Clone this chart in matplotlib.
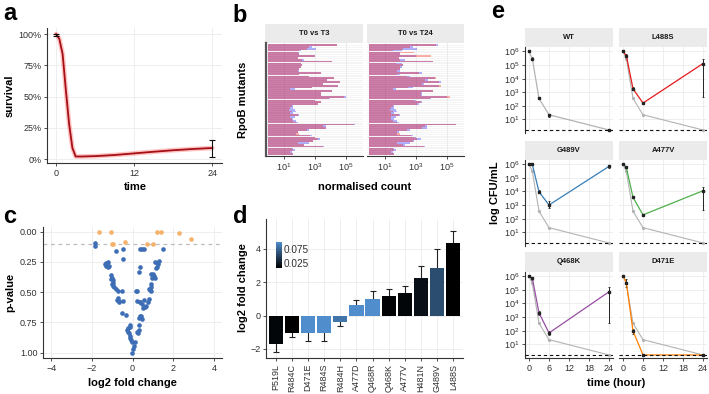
import numpy as np
import matplotlib
matplotlib.use('Agg')
import matplotlib.pyplot as plt
from matplotlib.colors import LinearSegmentedColormap, Normalize
from matplotlib.ticker import FuncFormatter, NullLocator

plt.rcParams['font.family'] = ['Liberation Sans', 'DejaVu Sans']
plt.rcParams['mathtext.fontset'] = 'custom'
plt.rcParams['mathtext.rm'] = 'Liberation Sans'
plt.rcParams['mathtext.it'] = 'Liberation Sans:italic'
plt.rcParams['mathtext.bf'] = 'Liberation Sans:bold'

# ---- panel a: survival curve
time_a = [0, 0.5, 1, 1.5, 2, 2.5, 3, 4, 6, 9, 12, 15, 18, 21, 24]
surv_a = [100, 96, 84, 55, 28, 9, 2, 2, 2.3, 3.2, 4.5, 5.8, 7, 8, 8.8]
err_t_a = [0, 24]
err_lo_a = [98.5, 2]
err_hi_a = [100, 15.5]

# ---- panel b: normalised counts (log10) per RpoB mutant, top to bottom
t0_log = [4.4, 2.8, 3.1, 2.1, 2.0, 2.0, 3.0, 1.9, 2.3, 4.1, 2.1, 2.2, 2.1, 2.0, 2.0,
          3.4, 2.0, 2.6, 4.2, 3.8, 4.6, 3.5, 4.5, 2.8, 1.7, 4.1, 3.4, 3.4, 5.0, 4.0,
          3.0, 3.4, 3.2, 1.6, 1.6, 1.7, 1.8, 1.6, 2.0, 1.7, 1.6, 1.8, 1.9, 5.6, 3.7,
          3.7, 2.6, 1.9, 1.8, 2.8, 3.0, 3.3, 2.9, 2.6, 2.3, 3.6, 1.6, 1.7, 1.5, 1.6]
t3_log = [4.4, 2.6, 2.5, 2.0, 1.9, 2.0, 3.0, 1.9, 2.2, 4.1, 2.1, 2.2, 2.1, 2.0, 1.9,
          3.4, 2.0, 2.6, 4.2, 3.8, 4.6, 3.5, 4.5, 2.8, 1.4, 4.1, 3.4, 3.4, 4.9, 3.9,
          3.0, 3.4, 3.2, 1.5, 1.4, 1.3, 1.5, 1.4, 1.9, 1.4, 1.5, 1.6, 1.8, 5.5, 3.5,
          3.7, 2.5, 1.9, 2.0, 2.7, 3.0, 3.2, 2.9, 1.9, 2.3, 3.5, 1.5, 1.6, 1.4, 1.6]
t24_log = [4.3, 2.6, 2.2, 1.5, 2.9, 2.0, 4.0, 1.9, 2.0, 4.1, 1.7, 2.2, 2.0, 2.0, 1.8,
           3.2, 1.8, 2.4, 4.3, 3.6, 4.5, 3.4, 4.6, 2.5, 1.5, 4.1, 3.3, 3.3, 5.2, 3.9,
           2.9, 3.3, 3.1, 1.5, 1.4, 1.3, 1.5, 1.4, 1.9, 1.4, 1.4, 1.5, 1.8, 5.6, 3.6,
           3.4, 2.4, 1.8, 2.0, 2.7, 2.9, 3.1, 2.8, 1.8, 2.2, 3.5, 1.5, 1.6, 1.4, 1.6]

# ---- panel c: volcano plot
sig_x = [-1.66, -1.05, 1.21, 1.38, 2.30, 2.90, -1.02, -0.97, -0.39, 0.69, 1.03]
sig_p = [0.005, 0.0, 0.005, 0.005, 0.011, 0.058, 0.099, 0.099, 0.083, 0.099, 0.099]
ns_x = [-1.85, -1.82, -0.82, -0.49, -0.49, 0.39, 0.48, 0.56, 1.48, 0.39, 0.33,
        -1.33, -1.28, -1.22, -1.30, -1.15, -1.18, -1.08, -1.03, -0.98, -0.95, -1.00, -1.06,
        -0.89, -0.79, -0.70, -0.51, -0.95, -0.72, -0.66, -0.46, -0.75, -0.67, -0.51, -0.30,
        -0.10, -0.13, -0.26, -0.23, -0.18, -0.13, -0.10, -0.06, -0.02, -0.21,
        0.10, 0.07, 0.02, -0.02,
        1.10, 1.18, 1.25, 1.22, 1.15, 1.28, 0.93, 1.02, 1.05, 1.13, 0.95, 1.00,
        0.80, 0.89, 0.93, 0.85, 0.90, 0.16, 0.23, 0.23, 0.36, 0.39, 0.48, 0.56, 0.59,
        0.64, 0.75, 0.80, 0.52, 0.36, 0.43, 0.48, 0.33, 0.31, 0.26, 0.31, 0.23]
ns_p = [0.096, 0.116, 0.16, 0.146, 0.226, 0.146, 0.146, 0.146, 0.146, 0.289, 0.336,
        0.27, 0.26, 0.29, 0.285, 0.28, 0.25, 0.36, 0.38, 0.40, 0.42, 0.43, 0.39,
        0.46, 0.47, 0.49, 0.49, 0.45, 0.545, 0.57, 0.57, 0.565, 0.58, 0.675, 0.69,
        0.77, 0.785, 0.81, 0.83, 0.84, 0.86, 0.88, 0.895, 0.91, 0.80,
        0.91, 0.945, 0.97, 1.0,
        0.25, 0.26, 0.27, 0.29, 0.30, 0.24, 0.35, 0.35, 0.37, 0.38, 0.385, 0.36,
        0.47, 0.46, 0.43, 0.48, 0.49, 0.49, 0.49, 0.573, 0.58, 0.58, 0.60, 0.565, 0.62,
        0.61, 0.58, 0.56, 0.63, 0.70, 0.70, 0.72, 0.71, 0.77, 0.84, 0.81, 0.83]

# ---- panel d: fold change per mutant
mutants_d = ['P519L', 'R484C', 'D471E', 'R484S', 'R484H', 'A477D',
             'Q468R', 'Q468K', 'A477V', 'H481N', 'G489V', 'L488S']
lfc_d = [-1.7, -1.05, -1.05, -1.05, -0.4, 0.65, 1.0, 1.2, 1.35, 2.25, 2.85, 4.35]
se_d = [0.5, 0.25, 0.5, 0.45, 0.2, 0.3, 0.5, 0.4, 0.4, 0.75, 1.15, 0.7]
pval_d = [0.012, 0.008, 0.099, 0.099, 0.083, 0.099, 0.099, 0.010, 0.012, 0.018, 0.058, 0.008]

# ---- panel e: kill curves
hours_e = [0, 1, 3, 6, 24]
LOD = 1.67
strains_e = ['WT', 'L488S', 'G489V', 'A477V', 'Q468K', 'D471E']
colors_e = ['#b3b3b3', '#e41a1c', '#377eb8', '#4daf4a', '#984ea3', '#ff7f00']
cfu_e = {
    'WT':    [1e6, 2.9e5, 3.5e2, 2.2e1, LOD],
    'L488S': [1e6, 5e5, 1.8e3, 1.6e2, 1.3e5],
    'G489V': [1e6, 9.3e5, 9.3e3, 1e3, 6.7e5],
    'A477V': [1e6, 5.6e5, 3.6e3, 1.9e2, 1.1e4],
    'Q468K': [1e6, 6.8e5, 2e3, 6.8e1, 7e4],
    'D471E': [1e6, 3.2e5, 9.5e1, LOD, LOD],
}
lo_e = {
    'WT':    [1e6, 2.2e5, 3e2, 1.5e1, LOD],
    'L488S': [9e5, 4e5, 1.4e3, 1.3e2, 4.7e2],
    'G489V': [9e5, 8e5, 7e3, 6e2, 5e5],
    'A477V': [9e5, 4.8e5, 3e3, 1.5e2, 4.3e2],
    'Q468K': [9e5, 5e5, 1.5e3, 5e1, 3.7e2],
    'D471E': [9e5, 1.6e5, 6e1, LOD, LOD],
}
hi_e = {
    'WT':    [1.1e6, 3.8e5, 4e2, 2.7e1, LOD],
    'L488S': [1.1e6, 6e5, 2.3e3, 2e2, 2.6e5],
    'G489V': [1.1e6, 1.1e6, 1.3e4, 2e3, 9e5],
    'A477V': [1.1e6, 6.5e5, 4.3e3, 2.3e2, 2.2e4],
    'Q468K': [1.1e6, 8e5, 2.7e3, 9e1, 1.5e5],
    'D471E': [1.1e6, 5.8e5, 1.4e2, LOD, LOD],
}

W, H = 709, 394
fig = plt.figure(figsize=(W / 100, H / 100), dpi=100)
TXT = '#303030'


def rect(l, t, r, b):
    return [l / W, 1 - b / H, (r - l) / W, (b - t) / H]


def style(ax, left=True, bottom=True):
    for s in ['top', 'right']:
        ax.spines[s].set_visible(False)
    ax.spines['left'].set_visible(left)
    ax.spines['bottom'].set_visible(bottom)
    for s in ['left', 'bottom']:
        ax.spines[s].set_color('#333333')
        ax.spines[s].set_linewidth(0.8)
    ax.tick_params(length=2.5, width=0.6, labelsize=6.5, pad=1.5,
                   colors='#333333', labelcolor=TXT)
    ax.tick_params(axis='y', left=left, labelleft=left)
    ax.tick_params(axis='x', bottom=bottom, labelbottom=bottom)
    ax.grid(True, color='#ebebeb', lw=0.6)
    ax.set_axisbelow(True)


def strip(l, t, r, b, text):
    sa = fig.add_axes(rect(l, t, r, b))
    sa.set_facecolor('#ebebeb')
    sa.set_xticks([])
    sa.set_yticks([])
    for sp in sa.spines.values():
        sp.set_visible(False)
    sa.text(0.5, 0.5, text, ha='center', va='center', fontsize=5.5,
            fontweight='bold', color='#1a1a1a', transform=sa.transAxes)


def title(x, y, text, rot=0):
    fig.text(x / W, 1 - y / H, text, ha='center', va='center', rotation=rot,
             fontsize=8, fontweight='bold')


def letter(x, y, text):
    fig.text(x / W, 1 - y / H, text, ha='left', va='baseline',
             fontsize=17, fontweight='bold')


# ---------------- a
ax = fig.add_axes(rect(47, 28, 222, 163))
style(ax)
ax.plot(time_a, surv_a, color='#ff8080', lw=3.4, alpha=0.45, solid_capstyle='round')
ax.plot(time_a, surv_a, color='#a50f15', lw=1.3)
mid = [(a + b) / 2 for a, b in zip(err_lo_a, err_hi_a)]
ax.errorbar(err_t_a, mid, yerr=[np.subtract(mid, err_lo_a), np.subtract(err_hi_a, mid)],
            fmt='none', ecolor='#111111', elinewidth=0.8, capsize=2, capthick=0.8)
ax.set_xlim(-1.4, 25.5)
ax.set_ylim(-3.2, 104.8)
ax.set_xticks([0, 12, 24])
ax.set_yticks([0, 25, 50, 75, 100])
ax.yaxis.set_major_formatter(FuncFormatter(lambda v, p: f'{v:.0f}%'))
title(10, 96, 'survival', 90)
title(135, 187, 'time')
letter(3, 20, 'a')

# ---------------- b
n_rows = len(t0_log)
rows = np.arange(n_rows)[::-1]
for i, (name, tx) in enumerate([('T0 vs T3', t3_log), ('T0 vs T24', t24_log)]):
    l = 266 if i == 0 else 367
    r = 363 if i == 0 else 464
    strip(l - 1 if i == 0 else l, 24, r, 43, name)
    ax = fig.add_axes(rect(l, 43, r, 156))
    style(ax, left=(i == 0))
    ax.set_xscale('log')
    ax.set_xlim(10 ** -0.15, 10 ** 6.1)
    ax.set_ylim(-1.1, n_rows + 0.1)
    ax.set_yticks(rows)
    ax.tick_params(axis='y', left=False, labelleft=False)
    ax.grid(True, axis='y', color='#ececec', lw=0.4)
    ax.grid(True, axis='x', color='#e6e6e6', lw=0.6)
    ax.barh(rows, 10 ** np.array(t0_log) - 1, left=1, height=0.92,
            color='#0000ff', alpha=0.3, lw=0)
    ax.barh(rows, 10 ** np.array(tx) - 1, left=1, height=0.92,
            color='#ff1a00', alpha=0.34, lw=0)
    ax.set_xticks([10, 1e3, 1e5])
    ax.xaxis.set_minor_locator(NullLocator())
    if i == 0:
        ax.spines['left'].set_linewidth(1.6)
        ax.spines['left'].set_color('#555555')
title(243, 100, 'RpoB mutants', 90)
title(365, 187, 'normalised count')
letter(232, 22, 'b')

# ---------------- c
ax = fig.add_axes(rect(43, 227, 222, 358))
style(ax)
ax.axhline(0.1, color='#bdbdbd', lw=0.9, ls=(0, (3, 3)), zorder=1)
ax.scatter(ns_x, ns_p, s=11, color='#3d6db5', lw=0, zorder=3)
ax.scatter(sig_x, sig_p, s=11, color='#f4b26a', lw=0, zorder=3)
ax.set_xlim(-4.4, 4.4)
ax.set_ylim(1.044, -0.039)
ax.set_xticks([-4, -2, 0, 2, 4])
ax.set_yticks([0, 0.25, 0.5, 0.75, 1.0])
ax.yaxis.set_major_formatter(FuncFormatter(lambda v, p: f'{v:.2f}'))
title(10, 292, 'p-value', 90)
title(132, 383, 'log2 fold change')
letter(3, 223, 'c')

# ---------------- d
cmap = LinearSegmentedColormap.from_list('pv', ['#000000', '#4f8dcc'])
norm = Normalize(vmin=min(pval_d), vmax=max(pval_d))
ax = fig.add_axes(rect(266, 219, 463, 358))
style(ax)
xd = np.arange(len(mutants_d))
ax.errorbar(xd, lfc_d, yerr=se_d, fmt='none', ecolor='#222222', elinewidth=0.8,
            capsize=2, capthick=0.8, zorder=2)
ax.bar(xd, lfc_d, width=0.88, color=cmap(norm(pval_d)), zorder=3)
ax.set_xlim(-0.6, len(mutants_d) - 0.4)
ax.set_ylim(-2.55, 5.8)
ax.set_xticks(xd)
ax.set_xticklabels(mutants_d, rotation=90, fontsize=6.5)
ax.set_yticks([-2, 0, 2, 4])
cax = fig.add_axes(rect(276, 242, 282, 268))
grad = np.linspace(norm.vmin, norm.vmax, 100).reshape(-1, 1)
cax.imshow(grad, aspect='auto', cmap=cmap, norm=norm, origin='lower',
           extent=[0, 1, norm.vmin, norm.vmax])
cax.set_xticks([])
cax.yaxis.tick_right()
cax.set_yticks([0.025, 0.075])
cax.set_yticklabels(['0.025', '0.075'])
cax.tick_params(length=0, labelsize=7.2, pad=1.5, labelcolor=TXT)
for sp in cax.spines.values():
    sp.set_visible(False)
title(243, 288, 'log2 fold change', 90)
letter(233, 223, 'd')

# ---------------- e
cols = [(525, 613), (619, 707)]
rows_e = [(28, 47, 133), (140.5, 159.5, 246), (252, 271.5, 358)]
wt = cfu_e['WT']
for k, name in enumerate(strains_e):
    r_i, c_i = divmod(k, 2)
    l, r = cols[c_i]
    st, pt, pb = rows_e[r_i]
    strip(l, st, r, pt, name)
    ax = fig.add_axes(rect(l, pt, r, pb))
    style(ax, left=(c_i == 0), bottom=(r_i == 2))
    ax.set_yscale('log')
    if name != 'WT':
        ax.plot(hours_e, wt, color='#b3b3b3', lw=0.8, marker='o', ms=1.3, zorder=2)
    v = np.array(cfu_e[name])
    ax.errorbar(hours_e, v, yerr=[v - np.array(lo_e[name]), np.array(hi_e[name]) - v],
                fmt='none', ecolor='#222222', elinewidth=0.7, capsize=1, capthick=0.6,
                zorder=3)
    ax.plot(hours_e, v, color=colors_e[k], lw=0.9, zorder=3)
    ax.plot(hours_e, v, ls='none', marker='s', ms=1.6, color='#222222', zorder=4)
    ax.axhline(LOD, color='#111111', lw=0.8, ls=(0, (3, 2.5)), zorder=5)
    ax.set_xlim(-1.2, 25.2)
    ax.set_ylim(10 ** 0.0, 10 ** 6.33)
    ax.set_xticks([0, 6, 12, 18, 24])
    ax.set_yticks([10 ** e for e in range(1, 7)])
    ax.yaxis.set_minor_locator(NullLocator())
    ax.set_yticklabels([f'$10^{{{e}}}$' for e in range(1, 7)])
title(495, 193, 'log CFU/mL', 90)
title(616, 383, 'time (hour)')
letter(491, 18, 'e')

fig.savefig('out.png', dpi=100)
